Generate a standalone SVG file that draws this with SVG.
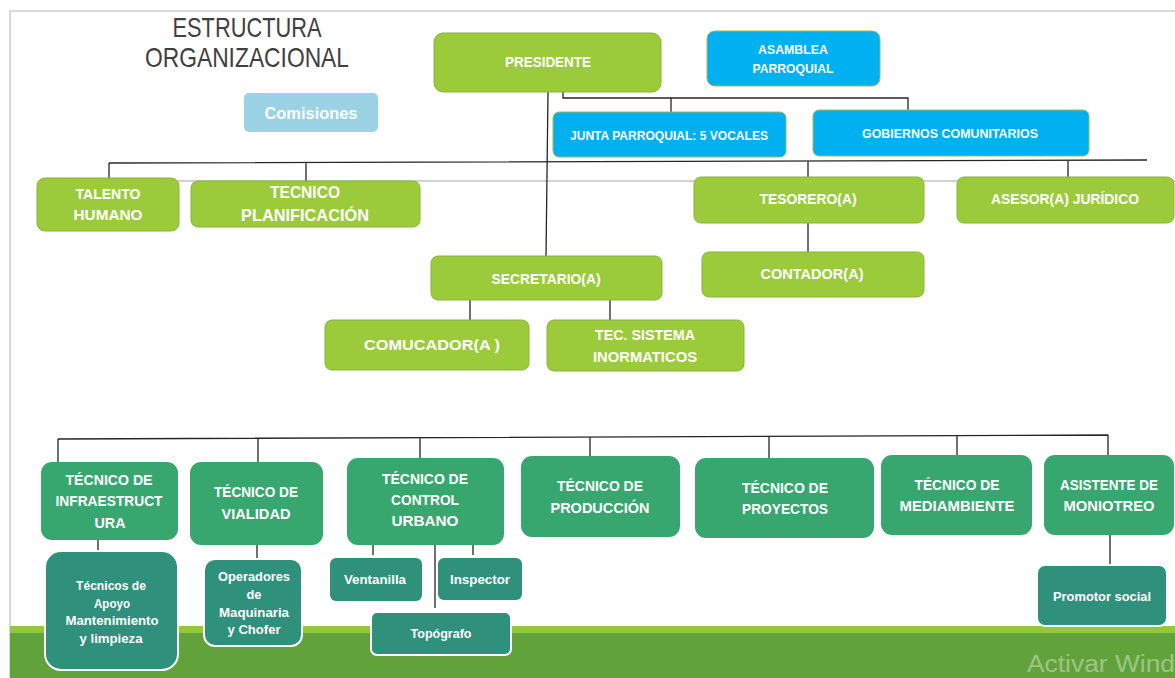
<svg xmlns="http://www.w3.org/2000/svg" width="1175" height="678" viewBox="0 0 1175 678">
<style>
text{font-family:"Liberation Sans",Arial,sans-serif;font-weight:bold;fill:#fff;text-anchor:middle}
.g{fill:#9BCB3B;stroke:#8AB534;stroke-width:1}
.b{fill:#00B0F0;stroke:#9BBB59;stroke-width:1}
.t{fill:#38A66F}
.s{fill:#2F917B;stroke:#fff;stroke-width:2}
.c{fill:none;stroke:#262626;stroke-width:1.3}
.f13{font-size:14.5px}.f14{font-size:15.5px}.f12{font-size:13.5px}.f11{font-size:13px}
</style>
<rect width="1175" height="678" fill="#fff"/>
<path d="M10 678V11H1175" fill="none" stroke="#d9d9d9" stroke-width="2"/>
<rect x="10" y="626" width="1165" height="52" fill="#92C83E"/>
<rect x="10" y="633" width="1165" height="45" fill="#62A23A"/>
<line x1="40" y1="181" x2="1175" y2="181" stroke="#a6a6a6" stroke-width="1.2"/>
<g id="title">
<text x="247" y="37" style="font-size:28px;font-weight:normal;fill:#404040" textLength="149" lengthAdjust="spacingAndGlyphs">ESTRUCTURA</text>
<text x="247" y="67" style="font-size:28px;font-weight:normal;fill:#404040" textLength="204" lengthAdjust="spacingAndGlyphs">ORGANIZACIONAL</text>
</g>
<g id="connectors">
<path class="c" d="M563 92V98H908V110M671 98V112"/>
<path class="c" d="M548 92L546 256"/>
<path class="c" d="M109 163L1147 160M109 163V178M306 162V181M808 161V177M1068 160V177"/>
<path class="c" d="M808 223V252"/>
<path class="c" d="M470 300V320M610 300V320"/>
<path class="c" d="M58 439L1108 435M58 439V462M258 438V462M420 438V458M590 437V456M769 437V458M957 436V455M1108 435V455"/>
<path class="c" d="M98 540V551M257 545V559M373 545V555M473 545V555M435 545V608M1110 535V565"/>
</g>
<g id="comisiones"><rect x="244" y="93" width="134" height="39" rx="5" fill="#9BD3E5"/><text x="311" y="119" style="font-size:17px" textLength="93" lengthAdjust="spacingAndGlyphs">Comisiones</text></g>
<g id="presidente"><rect class="g" x="434" y="33" width="227" height="59" rx="9"/><text class="f13" x="548" y="67" textLength="86" lengthAdjust="spacingAndGlyphs">PRESIDENTE</text></g>
<g id="asamblea"><rect class="b" x="707" y="31" width="173" height="55" rx="8"/><text class="f11" x="793" y="54" textLength="70" lengthAdjust="spacingAndGlyphs">ASAMBLEA</text><text class="f11" x="793" y="73" textLength="81" lengthAdjust="spacingAndGlyphs">PARROQUIAL</text></g>
<g id="junta"><rect class="b" x="553" y="112" width="233" height="45" rx="6"/><text class="f11" x="669" y="140" textLength="198" lengthAdjust="spacingAndGlyphs">JUNTA PARROQUIAL: 5 VOCALES</text></g>
<g id="gobiernos"><rect class="b" x="813" y="110" width="276" height="46" rx="6"/><text class="f11" x="950" y="138" textLength="176" lengthAdjust="spacingAndGlyphs">GOBIERNOS COMUNITARIOS</text></g>
<g id="talento"><rect class="g" x="37" y="178" width="142" height="53" rx="8"/><text class="f13" x="108" y="199" textLength="65" lengthAdjust="spacingAndGlyphs">TALENTO</text><text class="f13" x="108" y="220" textLength="69" lengthAdjust="spacingAndGlyphs">HUMANO</text></g>
<g id="planificacion"><rect class="g" x="191" y="181" width="229" height="46" rx="7"/><text x="305" y="198" style="font-size:17px" textLength="70" lengthAdjust="spacingAndGlyphs">TECNICO</text><text x="305" y="221" style="font-size:17px" textLength="128" lengthAdjust="spacingAndGlyphs">PLANIFICACIÓN</text></g>
<g id="tesorero"><rect class="g" x="694" y="177" width="230" height="46" rx="7"/><text class="f14" x="808" y="204" textLength="97" lengthAdjust="spacingAndGlyphs">TESORERO(A)</text></g>
<g id="asesor"><rect class="g" x="957" y="177" width="217" height="46" rx="7"/><text class="f14" x="1065" y="204" textLength="148" lengthAdjust="spacingAndGlyphs">ASESOR(A) JURÍDICO</text></g>
<g id="contador"><rect class="g" x="702" y="252" width="222" height="45" rx="7"/><text class="f14" x="812" y="279" textLength="103" lengthAdjust="spacingAndGlyphs">CONTADOR(A)</text></g>
<g id="secretario"><rect class="g" x="431" y="256" width="231" height="44" rx="7"/><text class="f14" x="546" y="284" textLength="109" lengthAdjust="spacingAndGlyphs">SECRETARIO(A)</text></g>
<g id="comunicador"><rect class="g" x="325" y="320" width="204" height="50" rx="7"/><text class="f14" x="432" y="350" textLength="136" lengthAdjust="spacingAndGlyphs">COMUCADOR(A )</text></g>
<g id="sistemas"><rect class="g" x="547" y="320" width="197" height="51" rx="7"/><text class="f14" x="645" y="340" textLength="100" lengthAdjust="spacingAndGlyphs">TEC. SISTEMA</text><text class="f14" x="645" y="362" textLength="104" lengthAdjust="spacingAndGlyphs">INORMATICOS</text></g>
<g id="infraestructura"><rect class="t" x="41" y="462" width="137" height="78" rx="11"/><text class="f14" x="109" y="485" textLength="87" lengthAdjust="spacingAndGlyphs">TÉCNICO DE</text><text class="f14" x="109" y="506" textLength="107" lengthAdjust="spacingAndGlyphs">INFRAESTRUCT</text><text class="f14" x="110" y="528" textLength="31" lengthAdjust="spacingAndGlyphs">URA</text></g>
<g id="vialidad"><rect class="t" x="190" y="462" width="133" height="83" rx="11"/><text class="f14" x="256" y="497" textLength="84" lengthAdjust="spacingAndGlyphs">TÉCNICO DE</text><text class="f14" x="256" y="519" textLength="69" lengthAdjust="spacingAndGlyphs">VIALIDAD</text></g>
<g id="control"><rect class="t" x="347" y="458" width="157" height="87" rx="11"/><text class="f14" x="425" y="484" textLength="86" lengthAdjust="spacingAndGlyphs">TÉCNICO DE</text><text class="f14" x="425" y="505" textLength="68" lengthAdjust="spacingAndGlyphs">CONTROL</text><text class="f14" x="425" y="526" textLength="67" lengthAdjust="spacingAndGlyphs">URBANO</text></g>
<g id="produccion"><rect class="t" x="521" y="456" width="159" height="81" rx="11"/><text class="f14" x="600" y="491" textLength="86" lengthAdjust="spacingAndGlyphs">TÉCNICO DE</text><text class="f14" x="600" y="513" textLength="99" lengthAdjust="spacingAndGlyphs">PRODUCCIÓN</text></g>
<g id="proyectos"><rect class="t" x="695" y="458" width="179" height="80" rx="11"/><text class="f14" x="785" y="493" textLength="86" lengthAdjust="spacingAndGlyphs">TÉCNICO DE</text><text class="f14" x="785" y="514" textLength="86" lengthAdjust="spacingAndGlyphs">PROYECTOS</text></g>
<g id="mediambiente"><rect class="t" x="881" y="455" width="151" height="80" rx="11"/><text class="f14" x="957" y="490" textLength="85" lengthAdjust="spacingAndGlyphs">TÉCNICO DE</text><text class="f14" x="957" y="511" textLength="115" lengthAdjust="spacingAndGlyphs">MEDIAMBIENTE</text></g>
<g id="asistente"><rect class="t" x="1044" y="455" width="130" height="80" rx="11"/><text class="f14" x="1109" y="490" textLength="98" lengthAdjust="spacingAndGlyphs">ASISTENTE DE</text><text class="f14" x="1109" y="511" textLength="91" lengthAdjust="spacingAndGlyphs">MONIOTREO</text></g>
<g id="apoyo"><rect class="s" x="45" y="551" width="133" height="119" rx="16"/><text class="f12" x="111" y="590" textLength="70" lengthAdjust="spacingAndGlyphs">Técnicos de</text><text class="f12" x="112" y="608" textLength="36" lengthAdjust="spacingAndGlyphs">Apoyo</text><text class="f12" x="112" y="625" textLength="93" lengthAdjust="spacingAndGlyphs">Mantenimiento</text><text class="f12" x="111" y="643" textLength="63" lengthAdjust="spacingAndGlyphs">y limpieza</text></g>
<g id="operadores"><rect class="s" x="204" y="559" width="98" height="87" rx="11"/><text class="f12" x="254" y="581" textLength="72" lengthAdjust="spacingAndGlyphs">Operadores</text><text class="f12" x="254" y="599" textLength="15" lengthAdjust="spacingAndGlyphs">de</text><text class="f12" x="254" y="617" textLength="70" lengthAdjust="spacingAndGlyphs">Maquinaria</text><text class="f12" x="254" y="634" textLength="53" lengthAdjust="spacingAndGlyphs">y Chofer</text></g>
<g id="ventanilla"><rect class="s" x="330" y="558" width="92" height="43" rx="6" style="stroke:none"/><text class="f12" x="375" y="584" textLength="62" lengthAdjust="spacingAndGlyphs">Ventanilla</text></g>
<g id="inspector"><rect class="s" x="438" y="558" width="84" height="42" rx="6" style="stroke:none"/><text class="f12" x="480" y="584" textLength="60" lengthAdjust="spacingAndGlyphs">Inspector</text></g>
<g id="topografo"><rect class="s" x="371" y="612" width="140" height="43" rx="6"/><text class="f12" x="441" y="638" textLength="61" lengthAdjust="spacingAndGlyphs">Topógrafo</text></g>
<g id="promotor"><rect class="s" x="1037" y="565" width="130" height="61" rx="8"/><text class="f12" x="1102" y="601" textLength="98" lengthAdjust="spacingAndGlyphs">Promotor social</text></g>
<text x="1027" y="672" style="font-size:23px;font-weight:normal;fill:#fff;fill-opacity:0.4;text-anchor:start" textLength="148" lengthAdjust="spacingAndGlyphs">Activar Wind</text>
</svg>
